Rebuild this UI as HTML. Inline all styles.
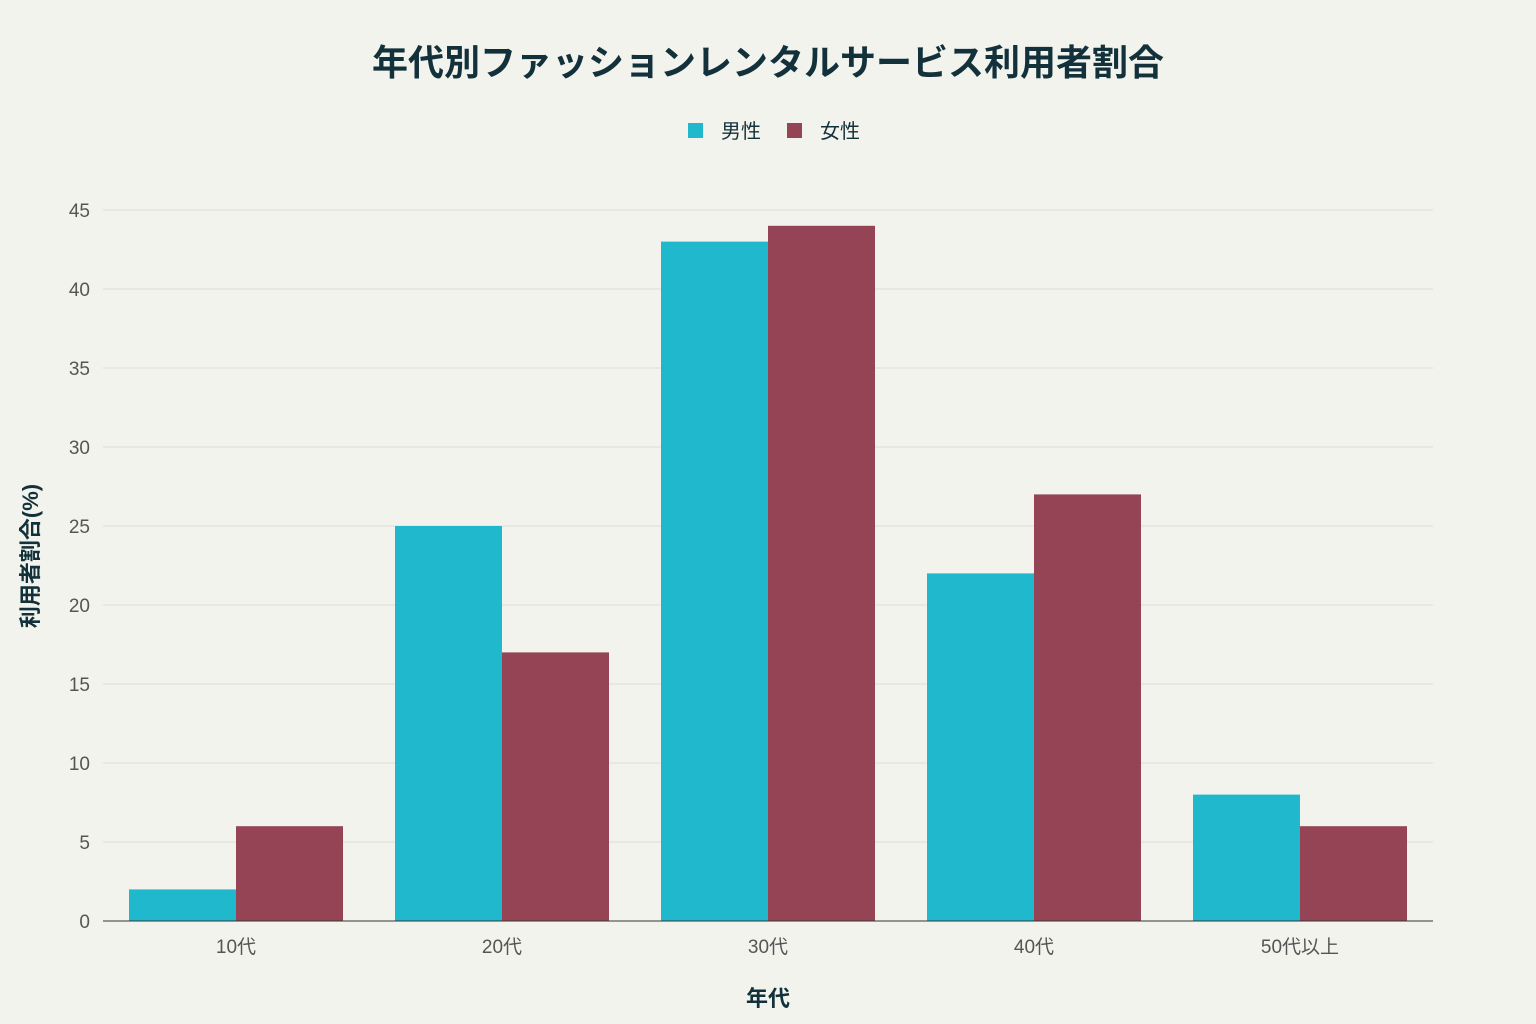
<!DOCTYPE html>
<html><head><meta charset="utf-8">
<style>
body{margin:0;background:#f3f3ee;}
svg{display:block;font-family:"Liberation Sans","Noto Sans CJK JP",sans-serif;}
</style></head>
<body>
<svg id="chart" width="1536" height="1024" viewBox="0 0 1536 1024">
<rect width="1536" height="1024" fill="#f3f3ee"/>
<text x="768" y="75" text-anchor="middle" font-size="36" font-weight="bold" fill="#13313a">年代別ファッションレンタルサービス利用者割合</text>
<g>
<g><rect x="688" y="123" width="15" height="15" fill="#1fb8cd"/><text x="721" y="138" font-size="20" fill="#13313a">男性</text></g>
<g><rect x="787" y="123" width="15" height="15" fill="#944454"/><text x="820" y="138" font-size="20" fill="#13313a">女性</text></g>
</g>
<g id="grid"></g>
<g id="bars"></g>
<g id="xticks"></g>
<line x1="103" x2="1433" y1="921" y2="921" stroke="#333" stroke-width="1"/>
<text x="768" y="1006" text-anchor="middle" font-size="22" font-weight="bold" fill="#13313a">年代</text>
<text transform="translate(38,556) rotate(-90)" text-anchor="middle" font-size="22" font-weight="bold" fill="#13313a">利用者割合(%)</text>
</svg>
<script>
const categories=["10代","20代","30代","40代","50代以上"];
const maleValues=[2,25,43,22,8];
const femaleValues=[6,17,44,27,6];
const yTicks=[0,5,10,15,20,25,30,35,40,45];
const NS="http://www.w3.org/2000/svg";
const L=103,R=1433,B=921,T=210,yMax=45;
const y=v=>B-(v/yMax)*(B-T);
const band=(R-L)/categories.length;
const x=i=>L+i*band;
function mk(tag,attrs,parent){const e=document.createElementNS(NS,tag);for(const k in attrs)e.setAttribute(k,attrs[k]);parent.appendChild(e);return e;}
const grid=document.getElementById('grid');
yTicks.forEach(t=>{
  if(t>0){const l=mk('line',{x1:L,x2:R,y1:y(t),y2:y(t),stroke:'#dcdcd6','stroke-width':1},grid);
  
  }
  const tx=mk('text',{x:90,y:y(t)+7,'text-anchor':'end','font-size':19,fill:'#555'},grid);
  tx.textContent=t;
  
  
});
const bars=document.getElementById('bars');
const pad=26,bw=(band-2*pad)/2;
categories.forEach((c,i)=>{
  const m=mk('rect',{x:x(i)+pad,y:y(maleValues[i]),width:bw,height:B-y(maleValues[i]),fill:'#1fb8cd'},bars);
  
  
  const f=mk('rect',{x:x(i)+pad+bw,y:y(femaleValues[i]),width:bw,height:B-y(femaleValues[i]),fill:'#944454'},bars);
  
  
  const t=mk('text',{x:x(i)+band/2,y:953,'text-anchor':'middle','font-size':19,fill:'#555'},document.getElementById('xticks'));
  t.textContent=c;
  
  
});
</script>
</body></html>
